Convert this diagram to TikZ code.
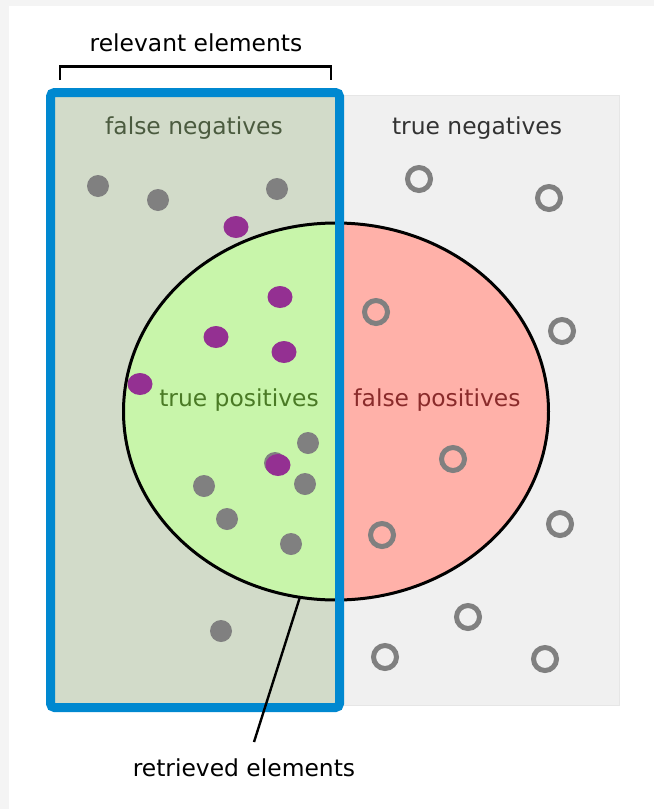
\documentclass[tikz,border=0pt]{standalone}
\usepackage{fontspec}
\setmainfont{DejaVu Sans}
\usepackage{xcolor}
\usetikzlibrary{shapes.geometric, positioning}

\definecolor{pageframe}{HTML}{F4F4F4}
\definecolor{negbg}{HTML}{F0F0F0}
\definecolor{negedge}{HTML}{E6E6E6}
\definecolor{relbg}{HTML}{D2DBC9}
\definecolor{relblue}{HTML}{0088D0}
\definecolor{tpgreen}{HTML}{C8F5AA}
\definecolor{fppink}{HTML}{FFB1A9}
\definecolor{dotgray}{HTML}{808080}
\definecolor{dotpurple}{HTML}{943092}
\definecolor{fntext}{HTML}{4B5B3F}
\definecolor{tptext}{HTML}{4A7A25}
\definecolor{fptext}{HTML}{8A2B2B}
\definecolor{tntext}{HTML}{333333}

\begin{document}
\begin{tikzpicture}[x=0.5pt, y=-0.5pt,
    every node/.style={font=\fontsize{11.7pt}{14pt}\selectfont},
    negdot/.style={fill=dotgray},
    posdot/.style={fill=dotpurple},
    emptydot/.style={draw=dotgray, line width=2.5pt}]
% page and frame
\fill[pageframe] (0,0) rectangle (654,809);
\fill[white] (9,6) rectangle (654,809);
\useasboundingbox (0,0) rectangle (654,809);
% negatives (right) and relevant (left) areas
\filldraw[fill=negbg, draw=negedge, line width=0.5pt] (335,95) rectangle (619,705);
\fill[relbg] (50.5,92.5) rectangle (339.5,707.5);
% retrieved set, split in two halves
\coordinate (ctr) at (336,411.5);
\begin{scope}
  \clip (50.5,92.5) rectangle (339.5,707.5);
  \fill[tpgreen] (ctr) ellipse [x radius=106.25pt, y radius=94.25pt];
\end{scope}
\begin{scope}
  \clip (339.5,0) rectangle (654,809);
  \fill[fppink] (ctr) ellipse [x radius=106.25pt, y radius=94.25pt];
\end{scope}
\node[draw, ellipse, line width=1.5pt, inner sep=0pt, outer sep=0pt,
  minimum width=212.5pt, minimum height=188.5pt] (retrieved) at (ctr) {};
% elements
\foreach \p in {(98,186),(158,200),(277,189),(308,443),(275,463),(305,484),
                (204,486),(227,519),(291,544),(221,631)}
  \fill[negdot] \p circle (5.5pt);
\foreach \p in {(236,227),(280,297),(216,337),(284,352),(140,384),(278,465)}
  \fill[posdot] \p ellipse [x radius=6.25pt, y radius=5.5pt];
\foreach \p in {(419,179),(549,198),(376,312),(562,331),(453,459),(382,535),
                (560,524),(468,617),(385,657),(545,659)}
  \draw[emptydot] \p circle (5.75pt);
% area labels
\node[text=fntext] (fn) at (194,128) {false negatives};
\node[text=tntext] (tn) at (477,128) {true negatives};
\node[text=tptext] (tp) at (239,400) {true positives};
\node[text=fptext] (fp) at (437,400) {false positives};
% relevant frame on top
\draw[relblue, line width=4.5pt, rounded corners=2pt] (50.5,92.5) rectangle (339.5,707.5);
% bracket over the relevant elements
\coordinate (brl) at (60,80);
\coordinate (brr) at (331,80);
\draw[line width=1.35pt] (brl) |- (331,66.5) -- (brr);
\node (rellabel) at (196,43) {relevant elements};
% leader to the retrieved set
\node (retlabel) at (244,768) {retrieved elements};
\coordinate (leadend) at (254,742);
\draw[line width=1.2pt] (retrieved.259) -- (leadend);
\end{tikzpicture}
\end{document}
